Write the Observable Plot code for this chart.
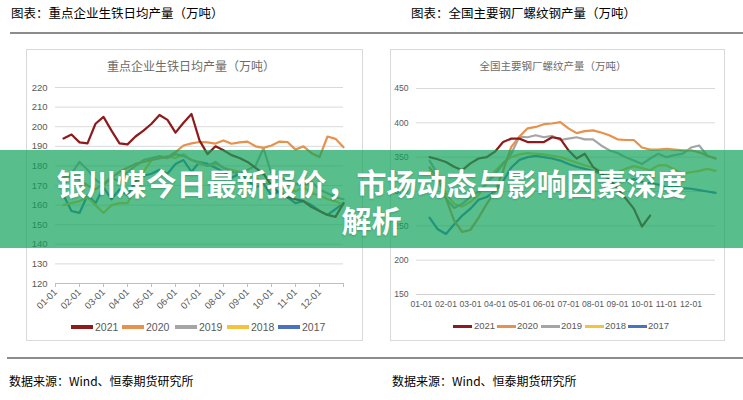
<!DOCTYPE html>
<html>
<head>
<meta charset="utf-8">
<script src="https://cdn.jsdelivr.net/npm/d3@7"></script>
<script src="https://cdn.jsdelivr.net/npm/@observablehq/plot@0.6"></script>
<style>
  html, body { margin: 0; padding: 0; background: #fff; }
  #page { position: relative; width: 743px; height: 400px; overflow: hidden; background: #fff;
          font-family: "Noto Sans CJK SC", "Noto Sans", sans-serif; }
  .abs { position: absolute; white-space: nowrap; }
  .head { font-size: 12.5px; color: #000; top: 5px; line-height: 16px; }
  .rule { position: absolute; height: 2px; background: #8c8c8c; }
  .frame { position: absolute; border: 1px solid #d9d9d9; box-sizing: border-box; }
  .ctitle { color: #6b6b6b; line-height: 14px; transform: translateX(-50%); }
  .src { font-size: 12px; color: #000; top: 373px; line-height: 16px; }
  .leg { position: absolute; font-size: 10.5px; color: #595959; line-height: 12px; font-family: "Liberation Sans", sans-serif; }
  .sw { position: absolute; }
  #banner { position: absolute; left: 0; top: 150px; width: 743px; height: 98px;
            background: rgba(16,162,91,0.7); z-index: 5; }
  #banner .t { position: absolute; left: 0; width: 743px; text-align: center; color: #fff;
               font-family: "Noto Sans CJK SC", sans-serif; font-weight: 700; font-size: 30px;
               line-height: 36px; text-shadow: 0 1px 2px rgba(0,0,0,0.18); white-space: nowrap; }
  svg { position: absolute; top: 0; overflow: visible; }
</style>
</head>
<body>
<div id="page"></div>
<script>
// ---------- data ----------
const monthLabels = ["01-01","02-01","03-01","04-01","05-01","06-01","07-01","08-01","09-01","10-01","11-01","12-01"];
const years = ["2021","2020","2019","2018","2017"];

// Left chart: 重点企业生铁日均产量（万吨）, one value per ten-day period (旬)
const pigIron2021 = [194,196,192,191.5,201.5,205,198,191.5,191,195,198,201.5,206,203.5,197,202,206.5,193,186,190,188,185.5,184,182,179,176,170,166,164,163,162,159,157,155,154,161];
const pigIron2020 = [174,176,173,170,168,171,174,177,179,181,182,183,184,184.5,187,190.4,191.5,192.2,192,191.4,193,191.3,192,192.4,190,189.2,190.4,192.4,192.2,188.3,190,186.5,184.5,195,193.8,189.5];
const pigIron2019 = [170,176,182,178,173,170,174,172,177,180,183,184,185,184,186,185,183,182,180,182,179,177,176,178,180,189,176,174,173,171,170,172,168,166,164,163];
const pigIron2018 = [160,161,162,164,160,156,160,161,161,169,177,183,184,185,184,186,183,181,180,181,179,178,177,175,174,172,170,169,168,167,169,166,165,163,162,160];
const pigIron2017 = [165,157,156,165,161,169,163,168,165,172,175,176,178,176,181,183,177,182,181,179,177,174,176,173,169,171,165,167,164,161,162,160,157,155,158,161];
const pigIronTicks = [120,130,140,150,160,170,180,190,200,210,220];

// Right chart: 全国主要钢厂螺纹产量（万吨）
const rebar2021 = [350,347,343,336,331,341,348,350,358,372,377,377,372,372,372,379,377,360,348,355,336,326,318,305,290,275,249,265];
const rebar2020 = [335,320,290,258,241,244,262,282,300,330,365,380,392,394,398,399,401,392,385,388,389,386,382,376,375,375,364,361,361,362,361,360,360,357,352,348];
const rebar2019 = [345,325,290,276,282,292,300,312,325,340,355,380,379,382,379,381,375,377,379,376,376,367,360,356,350,345,340,348,355,350,353,355,364,367,352,348];
const rebar2018 = [330,318,298,282,278,285,295,312,330,342,350,354,356,355,354,352,350,346,342,338,335,330,325,328,333,337,334,331,338,338,332,326,328,330,333,330];
const rebar2017 = [262,245,238,252,265,275,288,292,300,315,335,346,350,352,350,348,345,340,336,333,330,326,322,318,316,318,314,312,310,306,307,305,304,302,300,298];
const rebarTicks = [150,200,250,300,350,400,450];

// ---------- styles ----------
const yearColor = {"2021":"#8e1b1b","2020":"#e8914c","2019":"#a5a5a5","2018":"#f5c13e","2017":"#4a72c0"};
const drawOrder = ["2017","2018","2019","2020","2021"];

function rows(seriesByYear) {
  const out = [];
  for (const y of drawOrder) seriesByYear[y].forEach((v, i) => out.push({year: y, idx: i + 1, v}));
  return out;
}
const leftRows = rows({"2021":pigIron2021,"2020":pigIron2020,"2019":pigIron2019,"2018":pigIron2018,"2017":pigIron2017});
const rightRows = rows({"2021":rebar2021,"2020":rebar2020,"2019":rebar2019,"2018":rebar2018,"2017":rebar2017});
const monthTicks = monthLabels.map((_, i) => i * 3);

function lineMarks(data) {
  return drawOrder.map(y => Plot.line(data.filter(d => d.year === y), {
    x: "idx", y: "v", stroke: yearColor[y], strokeWidth: 2.2, curve: "linear"
  }));
}

const page = document.getElementById("page");
function add(html) { page.insertAdjacentHTML("beforeend", html); }

// headers, rules, frames
add(`<div class="abs head" style="left:11px">图表：重点企业生铁日均产量（万吨）</div>`);
add(`<div class="abs head" style="left:411px">图表：全国主要钢厂螺纹钢产量（万吨）</div>`);
add(`<div class="rule" style="left:10px;width:733px;top:32px"></div>`);
add(`<div class="rule" style="left:7px;width:736px;top:357px"></div>`);
add(`<div class="frame" style="left:26px;top:49px;width:337px;height:292px"></div>`);
add(`<div class="frame" style="left:390px;top:49px;width:335px;height:292px"></div>`);
add(`<div class="abs ctitle" style="left:191px;top:59px;font-size:12px">重点企业生铁日均产量（万吨）</div>`);
add(`<div class="abs ctitle" style="left:553px;top:59px;font-size:10.5px">全国主要钢厂螺纹产量（万吨）</div>`);
add(`<div class="abs src" style="left:9px">数据来源：Wind、恒泰期货研究所</div>`);
add(`<div class="abs src" style="left:392px">数据来源：Wind、恒泰期货研究所</div>`);

const axisStyle = {fontFamily: "Liberation Sans, sans-serif", fontSize: "9.5px", color: "#595959", background: "transparent"};

// left plot
const left = Plot.plot({
  width: 362, height: 350,
  marginLeft: 55, marginRight: 19, marginTop: 87, marginBottom: 67,
  x: {domain: [0, 36], label: null},
  y: {domain: [120, 220], label: null},
  style: axisStyle,
  marks: [
    Plot.gridY(pigIronTicks.slice(1), {stroke: "#d9d9d9", strokeOpacity: 1}),
    Plot.ruleY([120], {stroke: "#bfbfbf"}),
    Plot.axisY(pigIronTicks, {tickSize: 0, tickPadding: 8, fill: "#595959", label: null}),
    Plot.axisX([...monthTicks, 36], {tickSize: 4, tickPadding: 3, tickRotate: -45, stroke: "#bfbfbf",
      fill: "#595959", tickFormat: t => t < 36 ? monthLabels[t / 3] : "", label: null}),
    ...lineMarks(leftRows)
  ]
});
left.style.left = "0px";
page.appendChild(left);

// right plot
const right = Plot.plot({
  width: 371, height: 350,
  marginLeft: 44, marginRight: 28, marginTop: 88, marginBottom: 56,
  x: {domain: [-0.6, 36], label: null},
  y: {domain: [150, 450], label: null},
  style: {...axisStyle, fontSize: "8.6px"},
  marks: [
    Plot.gridY(rebarTicks.slice(1), {stroke: "#d9d9d9", strokeOpacity: 1}),
    Plot.ruleY([150], {stroke: "#d0d0d0"}),
    Plot.axisY(rebarTicks, {tickSize: 0, tickPadding: 8, fill: "#595959", label: null}),
    Plot.axisX(monthTicks, {tickSize: 0, tickPadding: 6, fill: "#595959",
      tickFormat: t => monthLabels[t / 3], label: null}),
    ...lineMarks(rightRows)
  ]
});
right.style.left = "372px";
page.appendChild(right);

// legends
const legLeft = [[71, 95], [122, 146], [175, 199], [227, 251], [278, 302]];
const legRight = [[453, 474], [497, 517], [541, 561], [585, 605], [628, 648]];
years.forEach((y, i) => {
  const [sx, tx] = legLeft[i];
  add(`<div class="sw" style="left:${sx}px;top:325px;width:22px;height:4px;background:${yearColor[y]}"></div>`);
  add(`<div class="leg" style="left:${tx}px;top:321px;font-size:10.5px">${y}</div>`);
  const [rx, rtx] = legRight[i];
  add(`<div class="sw" style="left:${rx}px;top:324.5px;width:19px;height:3px;background:${yearColor[y]}"></div>`);
  add(`<div class="leg" style="left:${rtx}px;top:320px;font-size:9.5px">${y}</div>`);
});

// banner
add(`<div id="banner"><div class="t" style="top:14px">银川煤今日最新报价，市场动态与影响因素深度</div><div class="t" style="top:51px">解析</div></div>`);
</script>
</body>
</html>
